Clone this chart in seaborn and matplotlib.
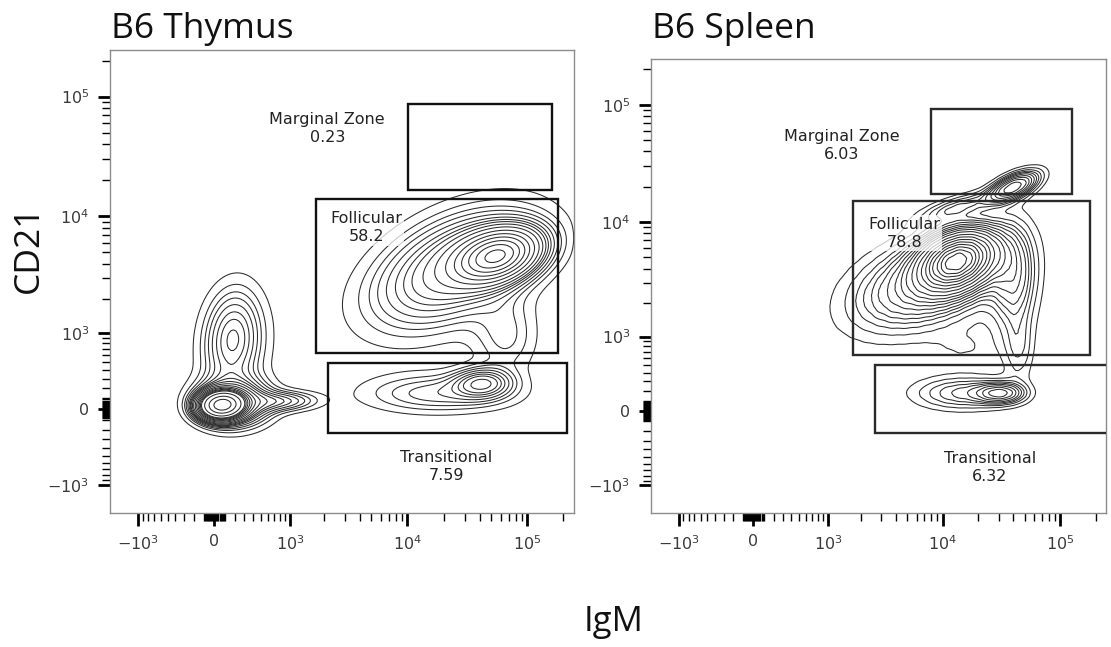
import numpy as np
import matplotlib
matplotlib.use("Agg")
import matplotlib.pyplot as plt
from matplotlib.patches import Rectangle
from matplotlib.ticker import FixedLocator, FixedFormatter
import seaborn as sns

# ------------------------------------------------------------------ data
COFACTOR = 490.0                       # arcsinh display cofactor (FlowJo-like biex)

major_tick_values = [-1e3, 0, 1e3, 1e4, 1e5]
major_tick_labels = [r"$-10^3$", "0", r"$10^3$", r"$10^4$", r"$10^5$"]
axis_min, axis_max = -1780.0, 245000.0

panel_titles = ["B6 Thymus", "B6 Spleen"]
x_label = "IgM"
y_label = "CD21"

# cell populations (centre in fluorescence units, spread in display units)
thy_pop_igm   = [74, 175, 175, 200, 834, 57000, 24400, 18000, 42200, 66200]
thy_pop_cd21  = [39, 59, 880, 740, 74, 4670, 3630, 149, 255, 930]
thy_pop_sd_x  = [0.22, 0.45, 0.33, 0.5, 0.45, 0.5, 1.0, 0.95, 0.35, 0.4]
thy_pop_sd_y  = [0.14, 0.28, 0.6, 0.8, 0.12, 0.32, 0.72, 0.25, 0.18, 0.5]
thy_pop_rho   = [0.0, 0.0, 0.1, 0.1, 0.0, 0.3, 0.45, 0.0, 0.0, 0.0]
thy_pop_frac  = [0.20, 0.08, 0.06, 0.04, 0.015, 0.22, 0.33, 0.05, 0.025, 0.03]

spl_pop_igm   = [40200, 13400, 13400, 7400, 40200, 14800, 31300, 44400, 15500]
spl_pop_cd21  = [19900, 13400, 4670, 3000, 3280, 175, 175, 740, 760]
spl_pop_sd_x  = [0.32, 0.5, 0.45, 0.95, 0.3, 0.65, 0.3, 0.2, 0.45]
spl_pop_sd_y  = [0.2, 0.2, 0.35, 0.6, 0.7, 0.22, 0.13, 0.45, 0.25]
spl_pop_rho   = [0.6, 0.7, 0.3, 0.4, 0.0, 0.0, 0.0, 0.0, 0.0]
spl_pop_frac  = [0.04, 0.02, 0.40, 0.30, 0.08, 0.045, 0.02, 0.015, 0.008]

# gates
gate_names = ["Marginal Zone", "Follicular", "Transitional"]
thy_gate_freq    = ["0.23", "58.2", "7.59"]
thy_gate_igm_lo  = [10100, 1705, 2170]
thy_gate_igm_hi  = [161000, 180000, 216000]
thy_gate_cd21_lo = [16700, 637, -233]
thy_gate_cd21_hi = [86900, 13900, 490]

spl_gate_freq    = ["6.03", "78.8", "6.32"]
spl_gate_igm_lo  = [8030, 1700, 2650]
spl_gate_igm_hi  = [127000, 178000, 253000]
spl_gate_cd21_lo = [17200, 655, -218]
spl_gate_cd21_hi = [91300, 15000, 504]

# ------------------------------------------------------------------ layout
thy_label_pos = [(2120, 53700), (4530, 8030), (21000, -665)]
spl_label_pos = [(1340, 45300), (4710, 8030), (25100, -657)]

W, H = 1111, 647


def fwd(v):
    return np.arcsinh(np.asarray(v, dtype=float) / COFACTOR)


def population_grid(igm, cd21, sdx, sdy, rho, frac, step=0.05):
    lo, hi = fwd(axis_min), fwd(axis_max)
    g = np.arange(lo, hi + step, step)
    gu, gw = np.meshgrid(g, g)
    dens = np.zeros_like(gu)
    for cx, cy, sx, sy, r, f in zip(fwd(igm), fwd(cd21), sdx, sdy, rho, frac):
        du = (gu - cx) / sx
        dw = (gw - cy) / sy
        z = (du * du - 2 * r * du * dw + dw * dw) / (1 - r * r)
        dens += f * np.exp(-0.5 * z) / (2 * np.pi * sx * sy * np.sqrt(1 - r * r))
    keep = dens > dens.max() * 2e-4
    return gu[keep], gw[keep], dens[keep]


minor_vals = ([-k * 100 for k in range(1, 10)] + [k * 10 for k in range(-9, 10) if k != 0]
              + [k * 100 for k in range(1, 10)] + [k * 1000 for k in range(2, 10)]
              + [k * 10000 for k in range(2, 10)] + [200000])

sns.set_style("white")
plt.rcParams["font.family"] = ["DejaVu Sans"]

fig = plt.figure(figsize=(W / 100, H / 100), dpi=100)

panels = [
    dict(rect=(110, 50, 574, 513), title=panel_titles[0],
         pop=(thy_pop_igm, thy_pop_cd21, thy_pop_sd_x, thy_pop_sd_y, thy_pop_rho, thy_pop_frac),
         gates=(thy_gate_igm_lo, thy_gate_igm_hi, thy_gate_cd21_lo, thy_gate_cd21_hi),
         freq=thy_gate_freq, lpos=thy_label_pos, gate_col="#111111"),
    dict(rect=(651, 59, 1106, 513), title=panel_titles[1],
         pop=(spl_pop_igm, spl_pop_cd21, spl_pop_sd_x, spl_pop_sd_y, spl_pop_rho, spl_pop_frac),
         gates=(spl_gate_igm_lo, spl_gate_igm_hi, spl_gate_cd21_lo, spl_gate_cd21_hi),
         freq=spl_gate_freq, lpos=spl_label_pos, gate_col="#2a2a2a"),
]

lo, hi = float(fwd(axis_min)), float(fwd(axis_max))
for p in panels:
    l, t, r, b = p["rect"]
    ax = fig.add_axes([l / W, 1 - b / H, (r - l) / W, (b - t) / H])
    gu, gw, dens = population_grid(*p["pop"])
    sns.kdeplot(x=gu, y=gw, weights=dens, levels=20, thresh=0.05, bw_method=0.03,
                gridsize=170, cut=2, clip=((lo, hi), (lo, hi)), color="#2b2b2b",
                linewidths=0.75, ax=ax)
    ax.set_xlim(lo, hi)
    ax.set_ylim(lo, hi)
    ax.set_xlabel("")
    ax.set_ylabel("")

    glo_x, ghi_x, glo_y, ghi_y = p["gates"]
    for i, name in enumerate(gate_names):
        x0, x1 = fwd(glo_x[i]), fwd(ghi_x[i])
        y0, y1 = fwd(glo_y[i]), fwd(ghi_y[i])
        ax.add_patch(Rectangle((x0, y0), x1 - x0, y1 - y0, fill=False,
                               edgecolor=p["gate_col"], linewidth=1.7, zorder=5,
                               clip_on=True))
        lx, ly = p["lpos"][i]
        ax.text(fwd(lx), fwd(ly), f"{name}\n{p['freq'][i]}", ha="center", va="center",
                fontsize=11.5, color="#222222", linespacing=1.25, zorder=6,
                bbox=dict(boxstyle="square,pad=0.1", facecolor="white", alpha=0.75,
                          edgecolor="none"))

    for axis in (ax.xaxis, ax.yaxis):
        axis.set_major_locator(FixedLocator(fwd(major_tick_values)))
        axis.set_major_formatter(FixedFormatter(major_tick_labels))
        axis.set_minor_locator(FixedLocator(fwd(minor_vals)))
    ax.tick_params(which="major", direction="out", length=9, width=2.0, color="black",
                   labelsize=11.5, labelcolor="#3a3a3a", pad=6)
    ax.tick_params(which="minor", direction="out", length=6, width=1.0, color="black")
    ax.tick_params(axis="x", which="both", bottom=True, top=False)
    ax.tick_params(axis="y", which="both", left=True, right=False)
    for s in ax.spines.values():
        s.set_color("#8c8c8c")
        s.set_linewidth(1.0)

    fig.text(l / W + 0.001, 1 - 38 / H, p["title"], fontsize=25.5, family="Open Sans",
             ha="left", va="baseline", color="#111111")

fig.text(29 / W, 1 - 249 / H, y_label, rotation=90, fontsize=25.5, family="Open Sans",
         ha="center", va="center", color="#111111")
fig.text(614 / W, 1 - 622 / H, x_label, fontsize=25, family="Open Sans",
         ha="center", va="center", color="#111111")

fig.savefig("out.png", dpi=100)
